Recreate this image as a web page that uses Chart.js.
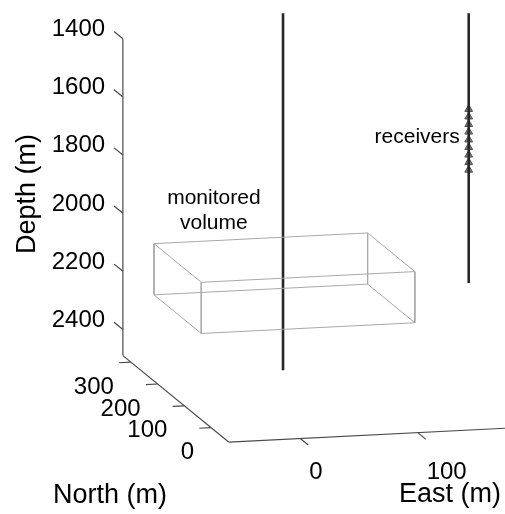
<!DOCTYPE html>
<html>
<head>
<meta charset="utf-8">
<script src="https://cdn.jsdelivr.net/npm/chart.js@4.4.1/dist/chart.umd.min.js"></script>
<style>
  html, body { margin: 0; padding: 0; background: #fff; }
  #wrap { width: 505px; height: 514px; }
</style>
</head>
<body>
<div id="wrap"><canvas id="pozos"></canvas></div>
<script>
// axis limits (m)
const eastLim = [-61, 200];
const northLim = [-66, 330];
const depthLim = [1400, 2490];

const eastTicks = [0, 100];
const northTicks = [0, 100, 200, 300];
const depthTicks = [1400, 1600, 1800, 2000, 2200, 2400];

// monitored volume (m)
const boxEast = [-50, 132];
const boxNorth = [85, 262];
const boxDepth = [2056, 2232];

// wells: treatment well, observation well
const wellEast = [39, 204];
const wellNorth = [170, 200];
const wellTop = [1212, 1268];
const wellBottom = [2440, 2196];

// receivers in the observation well
const receiverDepths = [1598, 1624, 1650, 1676, 1703, 1729, 1755, 1781, 1807];

// orthographic view: x in east metres, y in depth metres
const kxN = -0.2275, kyE = -0.202, kyN = -0.751;
function proj(e, n, d) {
    return {
        x: e + kxN * (n - northLim[1]),
        y: d + kyE * (e - eastLim[0]) + kyN * (n - northLim[1])
    };
}

const GAP = { x: NaN, y: NaN };

function boxEdges() {
    const [e0, e1] = boxEast, [n0, n1] = boxNorth, [d0, d1] = boxDepth;
    const corners = [[e0, n0], [e1, n0], [e1, n1], [e0, n1]];
    const pts = [];
    for (const d of [d0, d1]) {
        corners.concat([corners[0]]).forEach(([e, n]) => pts.push(proj(e, n, d)));
        pts.push(GAP);
    }
    corners.forEach(([e, n]) => pts.push(proj(e, n, d0), proj(e, n, d1), GAP));
    return pts;
}

const FONT = '"Liberation Sans", Arial, Helvetica, sans-serif';

const ejes3d = {
    id: "ejes3d",
    beforeDatasetsDraw(chart) {
        const ctx = chart.ctx, sx = chart.scales.x, sy = chart.scales.y;
        const px = (e, n, d) => {
            const p = proj(e, n, d);
            return [sx.getPixelForValue(p.x), sy.getPixelForValue(p.y)];
        };
        const line = (a, b) => {
            ctx.beginPath();
            ctx.moveTo(a[0], a[1]);
            ctx.lineTo(b[0], b[1]);
            ctx.stroke();
        };
        const [eMin, eMax] = eastLim, [nMin, nMax] = northLim, [dMin, dMax] = depthLim;

        ctx.save();
        ctx.strokeStyle = "#4a4a4a";
        ctx.lineWidth = 1.2;
        ctx.fillStyle = "#000";

        // axis lines
        line(px(eMin, nMax, dMin), px(eMin, nMax, dMax));
        line(px(eMin, nMax, dMax), px(eMin, nMin, dMax));
        line(px(eMin, nMin, dMax), px(eMax, nMin, dMax));

        ctx.font = "24px " + FONT;
        ctx.textBaseline = "middle";

        // depth ticks
        ctx.textAlign = "right";
        depthTicks.forEach(d => {
            const a = px(eMin, nMax, d), b = px(eMin, nMax + 33, d);
            line(a, b);
            ctx.fillText(String(d), b[0] - 9, b[1] - 2);
        });

        // north ticks
        northTicks.forEach(n => {
            const a = px(eMin, n, dMax), b = px(eMin - 10, n, dMax);
            line(a, b);
            ctx.fillText(String(n), a[0] - 17, a[1] + 25);
        });

        // east ticks
        ctx.textAlign = "left";
        const rowY = px(eastTicks[0], nMin, dMax)[1] + 34;
        eastTicks.forEach(e => {
            const a = px(e, nMin, dMax), b = px(e, nMin - 30, dMax);
            line(a, b);
            ctx.fillText(String(e), a[0] + 9, rowY);
        });

        // axis titles
        ctx.font = "27px " + FONT;
        ctx.textAlign = "center";
        ctx.fillText("North (m)", 110, 496);
        ctx.fillText("East (m)", 450, 495);
        ctx.save();
        ctx.translate(28, 194);
        ctx.rotate(-Math.PI / 2);
        ctx.fillText("Depth (m)", 0, 0);
        ctx.restore();

        // annotations
        ctx.font = "21px " + FONT;
        const mv = px(-19, 174, 1880);
        ctx.fillText("monitored", mv[0], mv[1] - 12);
        ctx.fillText("volume", mv[0], mv[1] + 13);
        const rc = px(wellEast[1], wellNorth[1], 1696);
        ctx.textAlign = "right";
        ctx.fillText("receivers", rc[0] - 9, rc[1]);

        ctx.restore();
    }
};

const wellSets = wellEast.map((e, i) => ({
    data: [proj(e, wellNorth[i], wellTop[i]), proj(e, wellNorth[i], wellBottom[i])],
    showLine: true,
    borderColor: "#262626",
    borderWidth: 2.6,
    pointRadius: 0
}));

new Chart(document.getElementById("pozos"), {
    type: "scatter",
    data: {
        datasets: [
            {
                data: boxEdges(),
                showLine: true,
                spanGaps: false,
                borderColor: "#a8a8a8",
                borderWidth: 1,
                pointRadius: 0
            },
            ...wellSets,
            {
                data: receiverDepths.map(d => proj(wellEast[1], wellNorth[1], d)),
                pointStyle: "triangle",
                pointRadius: 4.5,
                backgroundColor: "#808080",
                borderColor: "#4d4d4d",
                borderWidth: 1
            }
        ]
    },
    options: {
        responsive: true,
        maintainAspectRatio: false,
        animation: false,
        events: [],
        layout: { padding: 0 },
        plugins: { legend: { display: false }, tooltip: { enabled: false } },
        scales: {
            x: { type: "linear", display: false, min: -161, max: 259.8 },
            y: { type: "linear", display: false, reverse: true, min: 1285.5, max: 3016 }
        }
    },
    plugins: [ejes3d]
});
</script>
</body>
</html>
